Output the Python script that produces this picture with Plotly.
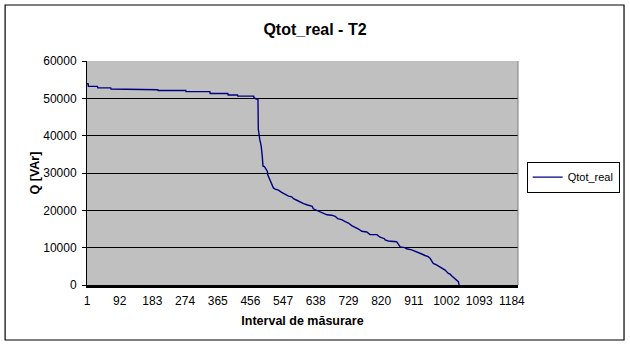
import plotly.graph_objects as go

# Measurement interval index and reactive power Q [VAr]
interval = [1, 4, 5, 30, 31, 67, 68, 132, 133, 198, 199, 276, 277, 343, 344, 393, 394,
            420, 421, 465, 466, 472, 477, 477, 478, 482, 486, 489, 491, 495, 499, 503,
            504, 508, 512, 516, 520, 525, 534, 543, 553, 562, 571, 576, 585, 594, 604,
            613, 622, 628, 631, 641, 650, 659, 669, 682, 692, 699, 710, 720, 729, 738,
            748, 757, 766, 780, 789, 808, 817, 829, 831, 840, 863, 868, 873, 886, 891,
            905, 914, 923, 933, 942, 951, 956, 965, 974, 984, 988, 998, 1007, 1012, 1016,
            1025, 1030, 1035, 1037]
q_real = [53900, 53900, 53200, 53200, 52800, 52800, 52500, 52500, 52300, 52300, 52100,
          52100, 51800, 51800, 51300, 51300, 50900, 50900, 50600, 50600, 50200, 49800,
          49800, 47000, 41700, 39000, 37200, 34500, 31800, 31700, 30900, 30500, 29600,
          28700, 27800, 26900, 26000, 25700, 25400, 24800, 24200, 23800, 23600, 23100,
          22700, 22200, 21800, 21500, 21300, 21100, 20400, 20000, 19600, 19300, 18800,
          18700, 18400, 17800, 17500, 17000, 16600, 15900, 15500, 15000, 14400, 14200,
          13500, 13500, 12800, 12400, 12100, 11800, 11600, 10800, 10200, 10000, 9700,
          9400, 9100, 8800, 8300, 7900, 7600, 7200, 5800, 5400, 4900, 4500, 4000, 3100,
          2900, 2500, 1800, 1300, 900, 0]

n_intervals = 1201
x_ticks = list(range(1, 1185, 91))
y_ticks = [0, 10000, 20000, 30000, 40000, 50000, 60000]

FONT = "Liberation Sans, Arial, sans-serif"

fig = go.Figure()
fig.add_trace(go.Scatter(
    x=interval, y=q_real, mode="lines", name="Qtot_real",
    line=dict(color="#000080", width=1.4),
))

fig.update_layout(
    width=630, height=346,
    margin=dict(l=87, r=112, t=61, b=61, autoexpand=False),
    paper_bgcolor="white",
    plot_bgcolor="#C0C0C0",
    font=dict(family=FONT, size=12, color="black"),
    title=dict(text="<b>Qtot_real - T2</b>", x=0.5, xanchor="center",
               y=0.915, yanchor="middle", font=dict(size=16, family=FONT)),
    showlegend=True,
    legend=dict(xref="container", yref="container", x=0.836, y=0.533,
                xanchor="left", yanchor="top",
                bordercolor="black", borderwidth=1, bgcolor="white",
                font=dict(size=11, family=FONT), itemwidth=30,
                tracegroupgap=0),
    xaxis=dict(
        range=[1, n_intervals], tickmode="array", tickvals=x_ticks,
        ticktext=[str(v) for v in x_ticks], showgrid=False, zeroline=False,
        showline=True, linecolor="black", linewidth=3, ticks="",
        tickfont=dict(size=12), ticklabelstandoff=3,
        title=dict(text="<b>Interval de măsurare</b>", standoff=9,
                   font=dict(size=12.5)),
    ),
    yaxis=dict(
        range=[0, 60000], tickmode="array", tickvals=y_ticks,
        ticktext=[str(v) for v in y_ticks], showgrid=True, gridcolor="black",
        gridwidth=1, zeroline=False, showline=True, linecolor="black",
        linewidth=1, ticks="outside", ticklen=4, tickcolor="black",
        tickfont=dict(size=12), ticklabelstandoff=3,
        title=dict(text="<b>Q [VAr]</b>", standoff=0, font=dict(size=12.5)),
    ),
    shapes=[
        # chart frame
        dict(type="rect", xref="paper", yref="paper",
             x0=-0.19, x1=1.246, y0=-0.2455, y1=1.25,
             line=dict(color="black", width=1.2), fillcolor="rgba(0,0,0,0)",
             layer="below"),
        # plot-area right border
        dict(type="line", xref="paper", yref="paper", x0=1, x1=1, y0=0, y1=1,
             line=dict(color="#808080", width=1)),
    ],
)

fig.write_html("out.html")
